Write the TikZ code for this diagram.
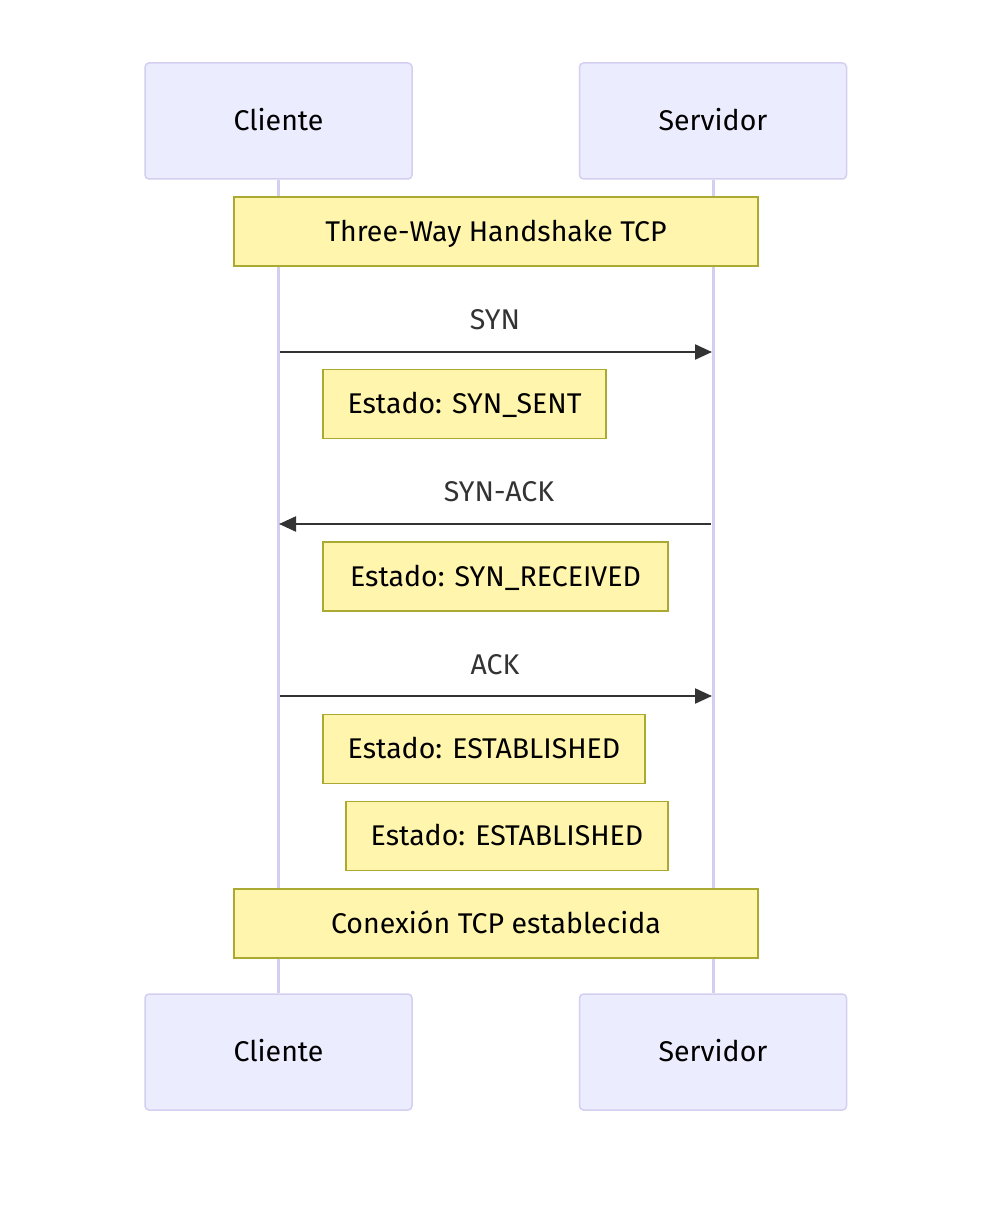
\documentclass[tikz,border=0pt]{standalone}
\usepackage{fontspec}
\setmainfont{Fira Sans}
\usetikzlibrary{arrows.meta}
\definecolor{actfill}{HTML}{ECECFF}
\definecolor{actline}{HTML}{D3CFF0}
\definecolor{notefill}{HTML}{FFF5AD}
\definecolor{noteline}{HTML}{AAAA33}
\definecolor{msg}{HTML}{333333}
\tikzset{
  actor/.style={draw=actline, fill=actfill, line width=1.5pt, rounded corners=4pt,
    minimum width=267pt, minimum height=116pt, inner sep=0pt, text height=25pt, text depth=6pt,
    font=\fontsize{28.5}{32}\selectfont},
  notebox/.style={draw=noteline, fill=notefill, line width=1.5pt, inner sep=0pt,
    minimum height=69pt, text height=25pt, text depth=6pt, font=\fontsize{28.5}{32}\selectfont},
  life/.style={draw=actline, line width=3pt},
  msgline/.style={draw=msg, line width=2.2pt, -{Triangle[length=17pt,width=15pt]}},
  msglabel/.style={text=msg, font=\fontsize{28.5}{32}\selectfont, inner sep=0pt}
}
\begin{document}
\begin{tikzpicture}[x=1pt,y=-1pt]
\useasboundingbox[fill=white] (0,0) rectangle (998,1206);
% actors
\node[actor] (c1) at (278.5,121) {Cliente};
\node[actor] (s1) at (713,121) {Servidor};
\node[actor] (c2) at (278.5,1052) {Cliente};
\node[actor] (s2) at (713,1052) {Servidor};
% lifelines
\draw[life] (c1.south) -- (c2.north);
\draw[life] (s1.south) -- (s2.north);
% notes
\node[notebox, minimum width=524pt] (n1) at (496,231.5) {Three-Way Handshake TCP};
\node[notebox, minimum width=283pt] (n2) at (464.5,404) {Estado: SYN\_SENT};
\node[notebox, minimum width=345pt] (n3) at (495.5,576.5) {Estado: SYN\_RECEIVED};
\node[notebox, minimum width=322pt] (n4) at (484,749) {Estado: ESTABLISHED};
\node[notebox, minimum width=322pt] (n5) at (507,836) {Estado: ESTABLISHED};
\node[notebox, minimum width=524pt] (n6) at (496,923.5) {Conexión TCP establecida};
% messages
\coordinate (a1) at (280,352); \coordinate (b1) at (712,352);
\coordinate (a2) at (711,524); \coordinate (b2) at (279,524);
\coordinate (a3) at (280,696); \coordinate (b3) at (712,696);
\draw[msgline] (a1) -- (b1);
\draw[msgline] (a2) -- (b2);
\draw[msgline] (a3) -- (b3);
\node[msglabel] (l1) at (495,320) {SYN};
\node[msglabel] (l2) at (499,492) {SYN-ACK};
\node[msglabel] (l3) at (495,665) {ACK};
\end{tikzpicture}
\end{document}
